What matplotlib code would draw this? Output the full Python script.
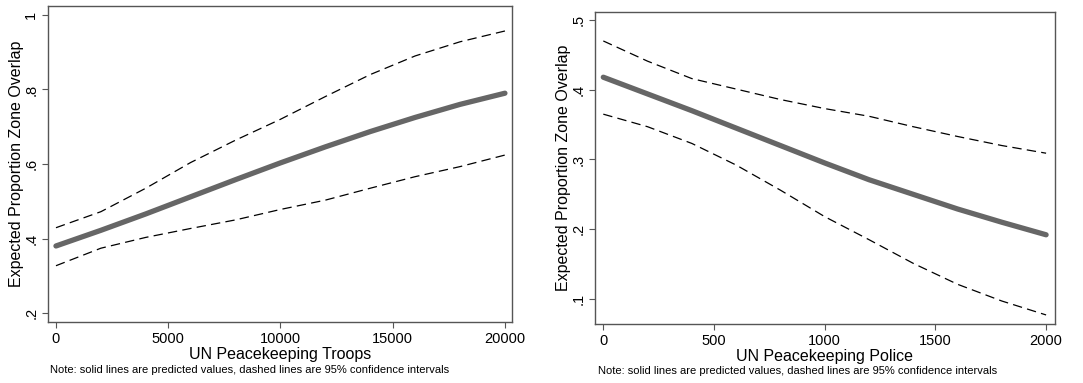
import matplotlib
matplotlib.use("Agg")
import matplotlib.pyplot as plt

plt.rcParams['font.family'] = ['Liberation Sans', 'DejaVu Sans']

# left panel: troops
troops = [0, 2000, 4000, 6000, 8000, 10000, 12000, 14000, 16000, 18000, 20000]
troops_pred = [0.380, 0.422, 0.466, 0.512, 0.558, 0.603, 0.646, 0.687, 0.725, 0.760, 0.790]
troops_hi = [0.429, 0.472, 0.535, 0.604, 0.664, 0.720, 0.781, 0.840, 0.890, 0.928, 0.957]
troops_lo = [0.327, 0.374, 0.403, 0.427, 0.450, 0.478, 0.503, 0.535, 0.566, 0.593, 0.624]

# right panel: police
police = [0, 200, 400, 600, 800, 1000, 1200, 1400, 1600, 1800, 2000]
police_pred = [0.418, 0.394, 0.370, 0.345, 0.320, 0.295, 0.271, 0.250, 0.229, 0.210, 0.192]
police_hi = [0.470, 0.441, 0.416, 0.401, 0.386, 0.373, 0.362, 0.347, 0.333, 0.320, 0.309]
police_lo = [0.365, 0.347, 0.323, 0.292, 0.256, 0.218, 0.185, 0.151, 0.121, 0.097, 0.077]

note = "Note: solid lines are predicted values, dashed lines are 95% confidence intervals"
ylab = "Expected Proportion Zone Overlap"

fig = plt.figure(figsize=(10.83, 3.83), dpi=100)
ax1 = fig.add_axes([0.0443, 0.1593, 0.4284, 0.825])
ax2 = fig.add_axes([0.5494, 0.154, 0.4247, 0.8146])


def draw(ax, x, pred, hi, lo, xlab, xticks, yticks, yticklabels, xlim, ylim):
    ax.plot(x, hi, color='black', lw=0.9, ls=(0, (7.5, 4.2)))
    ax.plot(x, lo, color='black', lw=0.9, ls=(0, (7.5, 4.2)))
    ax.plot(x, pred, color='#666666', lw=3.8, solid_capstyle='round',
            solid_joinstyle='round')
    ax.set_xlim(xlim)
    ax.set_ylim(ylim)
    ax.set_xticks(xticks)
    ax.set_xticklabels([str(t) for t in xticks], fontsize=10.5)
    ax.set_yticks(yticks)
    ax.set_yticklabels(yticklabels, fontsize=10.5, rotation=90, va='center')
    ax.set_xlabel(xlab, fontsize=11.5, labelpad=1)
    ax.set_ylabel(ylab, fontsize=11.5)
    ax.yaxis.set_label_coords(-0.052, 0.5)
    ax.tick_params(length=4, width=0.8, color='#555555', pad=3)
    for s in ax.spines.values():
        s.set_color('#555555')
        s.set_linewidth(1.0)


draw(ax1, troops, troops_pred, troops_hi, troops_lo, "UN Peacekeeping Troops",
     [0, 5000, 10000, 15000, 20000], [0.2, 0.4, 0.6, 0.8, 1.0],
     ['.2', '.4', '.6', '.8', '1'], (-356, 20312), (0.176, 1.024))
draw(ax2, police, police_pred, police_hi, police_lo, "UN Peacekeeping Police",
     [0, 500, 1000, 1500, 2000], [0.1, 0.2, 0.3, 0.4, 0.5],
     ['.1', '.2', '.3', '.4', '.5'], (-37.5, 2040), (0.064, 0.5115))

fig.text(50 / 1083, 1 - 370 / 383, note, fontsize=8, va='center')
fig.text(598 / 1083, 1 - 371 / 383, note, fontsize=8, va='center')

fig.savefig("out.png", dpi=100)
